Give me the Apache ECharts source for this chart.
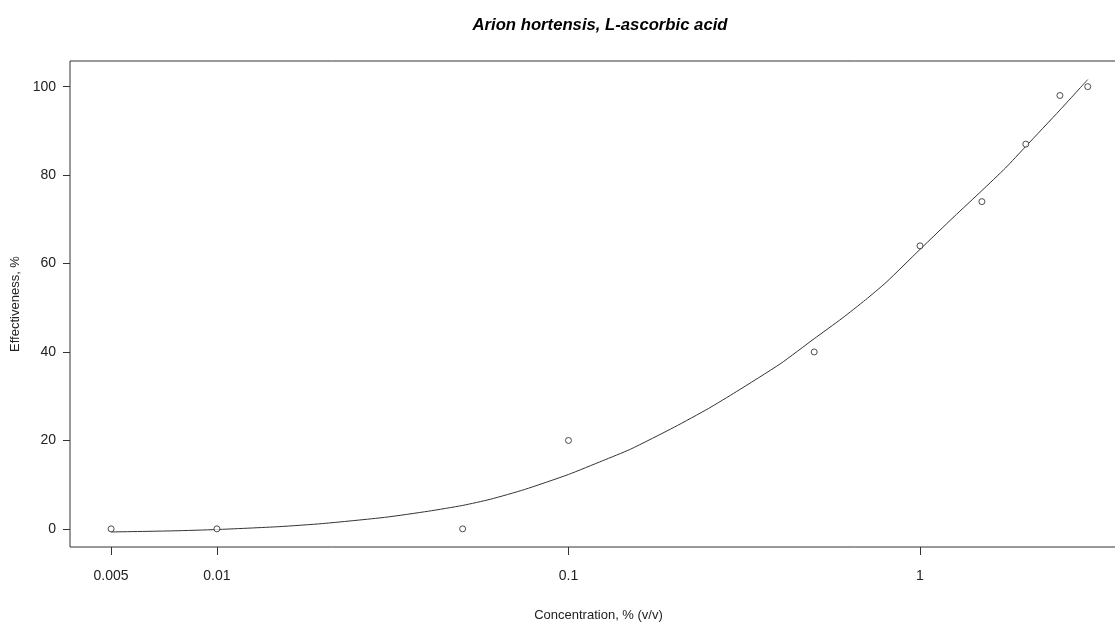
<!DOCTYPE html>
<html><head><meta charset="utf-8">
<script src="https://cdn.jsdelivr.net/npm/echarts@6/dist/echarts.min.js"></script>
<style>html,body{margin:0;padding:0;background:#fff}#c{width:1115px;height:623px}</style>
</head><body><div id="c"></div>
<script>
// Observed data points
const concentration = [0.005, 0.01, 0.05, 0.1, 0.5, 1, 1.5, 2, 2.5, 3];
const effectiveness = [0, 0, 0, 20, 40, 64, 74, 87, 98, 100];
// Fitted curve
const fitX = [0.005, 0.0075, 0.01, 0.015, 0.02, 0.03, 0.04, 0.05, 0.06, 0.075, 0.1, 0.125, 0.15, 0.2, 0.25, 0.3, 0.4, 0.5, 0.6, 0.7, 0.8, 1.0, 1.25, 1.5, 1.75, 2.0, 2.5, 3.0];
const fitY = [-0.7, -0.45, -0.15, 0.5, 1.2, 2.6, 4.0, 5.3, 6.7, 8.9, 12.3, 15.4, 18.0, 23.0, 27.2, 31.0, 37.3, 43.0, 47.6, 51.8, 55.7, 63.2, 70.6, 76.5, 81.6, 86.5, 94.7, 101.6];
const xTicks = [0.005, 0.01, 0.1, 1];
const yTicks = [0, 20, 40, 60, 80, 100];

const FONT = "'Liberation Sans', Arial, sans-serif";
const chart = echarts.init(document.getElementById('c'), null, {renderer: 'canvas'});
chart.setOption({
  backgroundColor: '#fff',
  animation: false,
  title: {
    text: 'Arion hortensis, L-ascorbic acid',
    left: 595, top: 12, textAlign: 'center',
    textStyle: {fontFamily: FONT, fontStyle: 'italic', fontWeight: 'bold', fontSize: 16.7, color: '#000'}
  },
  grid: {left: 70, top: 61, width: 1057, height: 486, show: true, borderColor: '#333', borderWidth: 1,
    backgroundColor: 'transparent', outerBoundsMode: 'none', containLabel: false},
  xAxis: {
    type: 'log', min: 0.00382, max: 3.88,
    name: 'Concentration, % (v/v)', nameLocation: 'middle', nameGap: 62,
    nameTextStyle: {fontFamily: FONT, fontSize: 13, color: '#222'},
    axisLine: {show: false, onZero: false},
    axisTick: {show: true, inside: false, length: 8, lineStyle: {color: '#333'}, customValues: xTicks},
    axisLabel: {show: true, margin: 22, fontFamily: FONT, fontSize: 14, color: '#222', customValues: xTicks,
      formatter: v => String(v)},
    splitLine: {show: false}, minorTick: {show: false}
  },
  yAxis: {
    type: 'value', min: -4.1, max: 105.8,
    name: 'Effectiveness, %', nameLocation: 'middle', nameGap: 43,
    nameTextStyle: {fontFamily: FONT, fontSize: 13, color: '#222'},
    axisLine: {show: false, onZero: false},
    axisTick: {show: true, inside: false, length: 7, lineStyle: {color: '#333'}, customValues: yTicks},
    axisLabel: {show: true, margin: 14, fontFamily: FONT, fontSize: 14, color: '#222', customValues: yTicks},
    splitLine: {show: false}
  },
  series: [
    {type: 'line', data: fitX.map((x, i) => [x, fitY[i]]), smooth: 0.2, showSymbol: false, symbol: 'none',
      lineStyle: {color: '#333', width: 1}, clip: true, z: 2},
    {type: 'scatter', data: concentration.map((x, i) => [x, effectiveness[i]]), symbol: 'circle', symbolSize: 6,
      itemStyle: {color: '#fff', borderColor: '#222', borderWidth: 1}, z: 3}
  ]
});
</script></body></html>
